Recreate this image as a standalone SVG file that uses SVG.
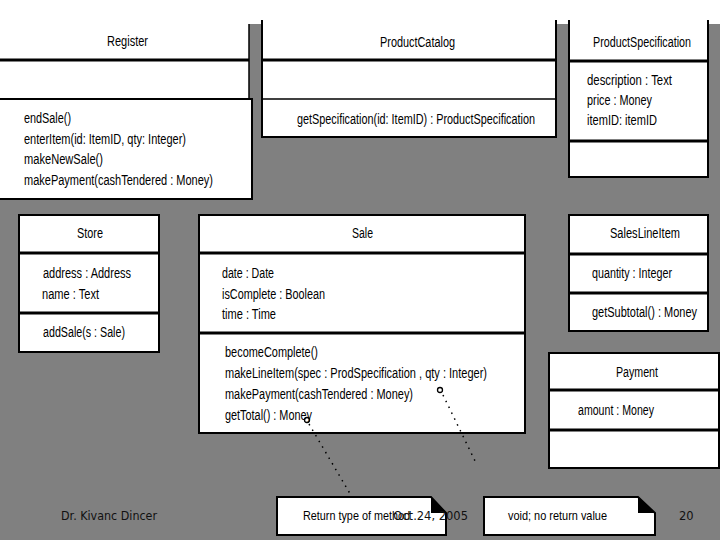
<svg xmlns="http://www.w3.org/2000/svg" width="720" height="540" viewBox="0 0 720 540">
<style>
.t{font-family:"Liberation Sans",Arial,sans-serif;font-size:14px;fill:#000}
.n{font-family:"Liberation Sans",Arial,sans-serif;font-size:13px;fill:#000}
.f{font-family:"DejaVu Sans","Liberation Sans",sans-serif;font-size:11.5px;fill:#111}
.box{fill:#fff;stroke:#000;stroke-width:2}
.thick{stroke:#000;stroke-width:3}
.thin{stroke:#000;stroke-width:1.5}
.dot{stroke:#000;stroke-width:1.5;stroke-dasharray:1.5 5;fill:none}
</style>
<rect x="0" y="0" width="720" height="540" fill="#808080"/>
<rect x="0" y="0" width="720" height="24" fill="#fff"/>

<g id="Register">
<rect x="0" y="0" width="249" height="99" fill="#fff"/>
<line x1="249" y1="24" x2="249" y2="99" class="thin"/>
<line x1="0" y1="60" x2="249" y2="60" class="thick"/>
<text class="t" x="107" y="46" textLength="41" lengthAdjust="spacingAndGlyphs">Register</text>
<rect x="-2" y="99" width="254" height="100" class="box"/>
<text class="t" x="24" y="123" textLength="47" lengthAdjust="spacingAndGlyphs">endSale()</text>
<text class="t" x="24" y="144" textLength="162" lengthAdjust="spacingAndGlyphs">enterItem(id: ItemID, qty: Integer)</text>
<text class="t" x="24" y="164" textLength="79" lengthAdjust="spacingAndGlyphs">makeNewSale()</text>
<text class="t" x="24" y="185" textLength="189" lengthAdjust="spacingAndGlyphs">makePayment(cashTendered : Money)</text>
</g>

<g id="ProductCatalog">
<path d="M262 20 V137 H556 V20" class="box"/>
<line x1="262" y1="60" x2="556" y2="60" class="thick"/>
<line x1="262" y1="99" x2="556" y2="99" class="thin"/>
<text class="t" x="380" y="47" textLength="75" lengthAdjust="spacingAndGlyphs">ProductCatalog</text>
<text class="t" x="297" y="124" textLength="238" lengthAdjust="spacingAndGlyphs">getSpecification(id: ItemID) : ProductSpecification</text>
</g>

<g id="ProductSpecification">
<path d="M569 20 V177 H708 V20" class="box"/>
<line x1="569" y1="61" x2="708" y2="61" class="thick"/>
<line x1="569" y1="141" x2="708" y2="141" class="thick"/>
<text class="t" x="593" y="47" textLength="98" lengthAdjust="spacingAndGlyphs">ProductSpecification</text>
<text class="t" x="587" y="85" textLength="85" lengthAdjust="spacingAndGlyphs">description : Text</text>
<text class="t" x="587" y="105" textLength="65" lengthAdjust="spacingAndGlyphs">price : Money</text>
<text class="t" x="587" y="125" textLength="70" lengthAdjust="spacingAndGlyphs">itemID: itemID</text>
</g>

<g id="Store">
<rect x="19" y="215" width="140" height="137" class="box"/>
<line x1="19" y1="253" x2="159" y2="253" class="thick"/>
<line x1="19" y1="313" x2="159" y2="313" class="thick"/>
<text class="t" x="77" y="238" textLength="26" lengthAdjust="spacingAndGlyphs">Store</text>
<text class="t" x="43" y="278" textLength="88" lengthAdjust="spacingAndGlyphs">address : Address</text>
<text class="t" x="42" y="299" textLength="57" lengthAdjust="spacingAndGlyphs">name : Text</text>
<text class="t" x="43" y="337" textLength="82" lengthAdjust="spacingAndGlyphs">addSale(s : Sale)</text>
</g>

<g id="Sale">
<rect x="199" y="215" width="326" height="218" class="box"/>
<line x1="199" y1="253" x2="525" y2="253" class="thick"/>
<line x1="199" y1="333" x2="525" y2="333" class="thick"/>
<text class="t" x="352" y="238" textLength="21" lengthAdjust="spacingAndGlyphs">Sale</text>
<text class="t" x="222" y="278" textLength="52" lengthAdjust="spacingAndGlyphs">date : Date</text>
<text class="t" x="222" y="299" textLength="103" lengthAdjust="spacingAndGlyphs">isComplete : Boolean</text>
<text class="t" x="222" y="319" textLength="54" lengthAdjust="spacingAndGlyphs">time : Time</text>
<text class="t" x="225" y="357" textLength="93" lengthAdjust="spacingAndGlyphs">becomeComplete()</text>
<text class="t" x="225" y="378" textLength="262" lengthAdjust="spacingAndGlyphs">makeLineItem(spec : ProdSpecification , qty : Integer)</text>
<text class="t" x="225" y="399" textLength="188" lengthAdjust="spacingAndGlyphs">makePayment(cashTendered : Money)</text>
<text class="t" x="225" y="420" textLength="87" lengthAdjust="spacingAndGlyphs">getTotal() : Money</text>
</g>

<g id="SalesLineItem">
<rect x="569" y="215" width="139" height="116" class="box"/>
<line x1="569" y1="254" x2="708" y2="254" class="thick"/>
<line x1="569" y1="293" x2="708" y2="293" class="thick"/>
<text class="t" x="610" y="238" textLength="70" lengthAdjust="spacingAndGlyphs">SalesLineItem</text>
<text class="t" x="592" y="278" textLength="80" lengthAdjust="spacingAndGlyphs">quantity : Integer</text>
<text class="t" x="592" y="317" textLength="105" lengthAdjust="spacingAndGlyphs">getSubtotal() : Money</text>
</g>

<g id="Payment">
<rect x="549" y="353" width="170" height="115" class="box"/>
<line x1="549" y1="390" x2="719" y2="390" class="thick"/>
<line x1="549" y1="430" x2="719" y2="430" class="thick"/>
<text class="t" x="616" y="377" textLength="42" lengthAdjust="spacingAndGlyphs">Payment</text>
<text class="t" x="578" y="415" textLength="76" lengthAdjust="spacingAndGlyphs">amount : Money</text>
</g>

<g id="connectors">
<circle cx="307" cy="420" r="2.5" fill="none" stroke="#000" stroke-width="1.3"/>
<circle cx="440" cy="390" r="2.5" fill="none" stroke="#000" stroke-width="1.3"/>
<line x1="309" y1="424" x2="352" y2="497" class="dot"/>
<line x1="443" y1="395" x2="477" y2="465" class="dot"/>
</g>

<g id="note1">
<path d="M277 497 H431 L446 513 V535 H277 Z" class="box"/>
<path d="M431 497 L446 513 H431 Z" fill="#000"/>
<text class="n" x="303" y="520" textLength="107" lengthAdjust="spacingAndGlyphs">Return type of method</text>
</g>

<g id="note2">
<path d="M484 497 H638 L655 513 V535 H484 Z" class="box"/>
<path d="M638 497 L655 513 H638 Z" fill="#000"/>
<text class="n" x="508" y="520" textLength="99" lengthAdjust="spacingAndGlyphs">void; no return value</text>
</g>

<g id="footer">
<text class="f" x="61" y="520" textLength="96" lengthAdjust="spacingAndGlyphs">Dr. Kivanc Dincer</text>
<text class="f" x="468" y="520" text-anchor="end">Oct.24, 2005</text>
<text class="f" x="679" y="520">20</text>
</g>
</svg>
